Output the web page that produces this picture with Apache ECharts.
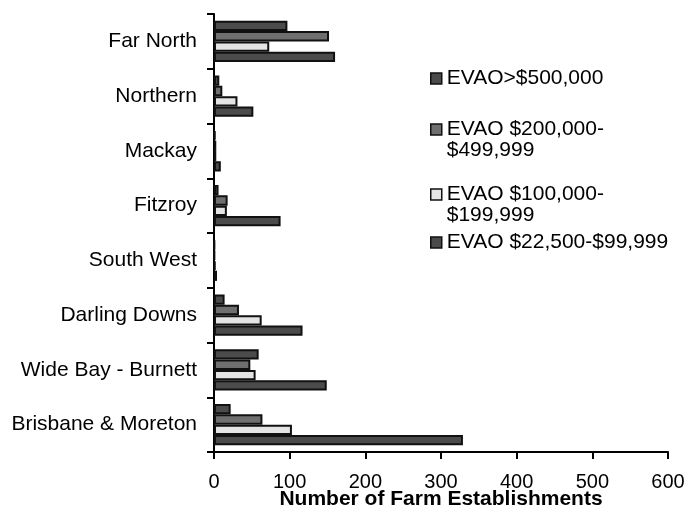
<!DOCTYPE html>
<html>
<head>
<meta charset="utf-8">
<script src="https://cdn.jsdelivr.net/npm/echarts@6/dist/echarts.min.js"></script>
<style>
  html, body { margin: 0; padding: 0; background: #fff; }
  #chart { width: 687px; height: 512px; }
</style>
</head>
<body>
<div id="chart"></div>
<script>
// Regions, listed from the bottom of the axis to the top
const regions = ['Brisbane & Moreton', 'Wide Bay - Burnett', 'Darling Downs', 'South West', 'Fitzroy', 'Mackay', 'Northern', 'Far North'];

// Farm establishments by estimated value of agricultural operations (EVAO)
const seriesNames = ['EVAO>$500,000', 'EVAO $200,000-$499,999', 'EVAO $100,000-$199,999', 'EVAO $22,500-$99,999'];
const evaoOver500k = [22, 59, 14, 1, 6, 2, 7, 97];
const evao200to499k = [64, 48, 33, 1, 18, 3, 11, 152];
const evao100to199k = [103, 55, 63, 2, 17, 3, 31, 73];
const evao22to99k = [329, 149, 117, 4, 88, 9, 52, 160];

const xTicks = [0, 100, 200, 300, 400, 500, 600];

const FONT = "'Liberation Sans', Arial, sans-serif";
const fills = ['#4b4b4b', '#6f6f6f', '#e4e4e4', '#4b4b4b'];
const values = [evaoOver500k, evao200to499k, evao100to199k, evao22to99k];

// Legend labels: long ranges wrap onto a second line; a blank leading line
// keeps the swatch level with the first line of the label.
const legendLabels = {
  'EVAO>$500,000': 'EVAO>$500,000',
  'EVAO $200,000-$499,999': '\nEVAO $200,000-\n$499,999',
  'EVAO $100,000-$199,999': '\nEVAO $100,000-\n$199,999',
  'EVAO $22,500-$99,999': 'EVAO $22,500-$99,999'
};
const legendTops = [68, 98, 163, 232];

const legends = seriesNames.map((name, i) => ({
  left: 430,
  top: legendTops[i],
  padding: 0,
  orient: 'vertical',
  data: [name],
  icon: 'rect',
  itemWidth: 11,
  itemHeight: 11,
  selectedMode: false,
  itemStyle: { borderColor: '#111', borderWidth: 1.5 },
  formatter: n => legendLabels[n],
  textStyle: {
    fontFamily: FONT,
    fontSize: 21,
    lineHeight: 21,
    color: '#000'
  }
}));

const chart = echarts.init(document.getElementById('chart'), null, { renderer: 'canvas' });
chart.setOption({
  animation: false,
  backgroundColor: '#fff',
  grid: { left: 214, right: 19, top: 14, bottom: 60, containLabel: false, outerBoundsMode: 'none' },
  legend: legends,
  xAxis: {
    type: 'value',
    min: xTicks[0],
    max: xTicks[xTicks.length - 1],
    interval: 100,
    name: 'Number of Farm Establishments',
    nameLocation: 'middle',
    nameGap: 37,
    nameMoveOverlap: false,
    nameTextStyle: { fontFamily: FONT, fontSize: 21, fontWeight: 'bold', color: '#000' },
    axisLine: { show: true, lineStyle: { color: '#000', width: 2 } },
    axisTick: { show: true, length: 7, lineStyle: { color: '#000', width: 2 } },
    axisLabel: { fontFamily: FONT, fontSize: 20, color: '#000', margin: 20 },
    splitLine: { show: false }
  },
  yAxis: {
    type: 'category',
    data: regions,
    axisLine: { show: true, lineStyle: { color: '#000', width: 2 } },
    axisTick: { show: true, length: 7, lineStyle: { color: '#000', width: 2 } },
    axisLabel: { fontFamily: FONT, fontSize: 21, color: '#000', margin: 17 },
    splitLine: { show: false }
  },
  series: seriesNames.map((name, i) => ({
    name: name,
    type: 'bar',
    data: values[i],
    barGap: '0%',
    barCategoryGap: '25%',
    itemStyle: { color: fills[i], borderColor: '#111', borderWidth: 2 }
  }))
});
</script>
</body>
</html>
